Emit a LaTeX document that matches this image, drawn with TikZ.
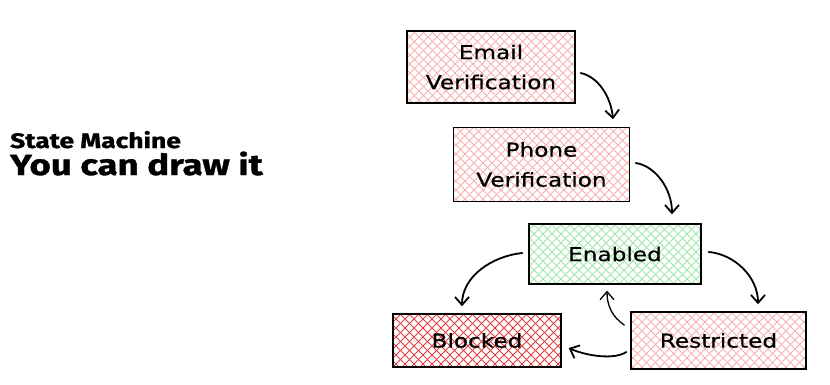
\documentclass[tikz,border=0pt]{standalone}
\usepackage{fontspec}
\setmainfont{Fira Sans}
\newfontfamily\headfont[FakeStretch=1.26,FakeBold=1.2]{Fira Sans}
\newfontfamily\handfont[FakeStretch=1.22,FakeBold=0.6]{DejaVu Sans}
\usetikzlibrary{arrows.meta,positioning}
\definecolor{cpink}{RGB}{246,176,176}
\definecolor{cmint}{RGB}{158,230,168}
\definecolor{cred}{RGB}{226,62,62}
\tikzset{smgraph/.style={x=1pt,y=-1pt},
    state/.style={draw=black,line width=1.4pt,align=center,inner sep=0pt,
        font=\handfont\fontsize{19}{30}\selectfont,
        path picture={
            \foreach \k in {-90,-81,...,190}{
                \draw[#1,line width=1pt] ([xshift=\k pt]path picture bounding box.south west) -- ++(90pt,90pt);
                \draw[#1,line width=1pt] ([xshift=-\k pt]path picture bounding box.south east) -- ++(-90pt,90pt);
            }}},
    trans/.style={-{Straight Barb[length=8pt,width=14pt]},line width=1.8pt,line cap=round}}

\begin{document}
\begin{tikzpicture}[smgraph]
    \useasboundingbox (0,0) rectangle (830,384);
    % heading
    \node[font=\headfont\bfseries\fontsize{21}{26}\selectfont,anchor=base west,inner sep=0pt] (title) at (10,148) {State Machine};
    \node[font=\headfont\bfseries\fontsize{29}{34}\selectfont,anchor=base west,inner sep=0pt] (subtitle) at (10,175) {You can draw it};
    % states
    \node[state=cpink,minimum width=168pt,minimum height=72pt] (email) at (491,67) {Email\\Verification};
    \node[state=cpink,minimum width=176pt,minimum height=74pt] (phone) at (541.5,164.5) {Phone\\Verification};
    \node[state=cmint,minimum width=172pt,minimum height=60pt] (enabled) at (615,254) {Enabled};
    \node[state=cred,minimum width=168pt,minimum height=53pt] (blocked) at (477,340.5) {Blocked};
    \node[state=cpink,minimum width=175pt,minimum height=57pt] (restricted) at (718.5,340.5) {Restricted};
    % transitions
    \draw[trans] ([shift={(5,6)}]email.east) .. controls +(18,4) and +(-2,-22) .. ([shift={(71.5,-7.5)}]phone.north);
    \draw[trans] ([shift={(5.5,-1.5)}]phone.east) .. controls +(20,3) and +(0,-25) .. ([shift={(57,-9)}]enabled.north);
    \draw[trans] ([shift={(-6,-1)}]enabled.west) .. controls +(-30,3) and +(0,-30) .. ([shift={(-15,-7)}]blocked.north);
    \draw[trans] ([shift={(7,-2)}]enabled.east) .. controls +(25,2) and +(0,-28) .. ([shift={(39.5,-7)}]restricted.north);
    \draw[trans,line width=1.3pt] ([shift={(-6,-15.5)}]restricted.west) .. controls +(-12,-8) and +(0,15) .. ([shift={(-8,6)}]enabled.south);
    \draw[trans] ([shift={(-4,11.5)}]restricted.west) .. controls +(-12,8) and +(18,8) .. ([shift={(7,7.5)}]blocked.east);
\end{tikzpicture}
\end{document}
